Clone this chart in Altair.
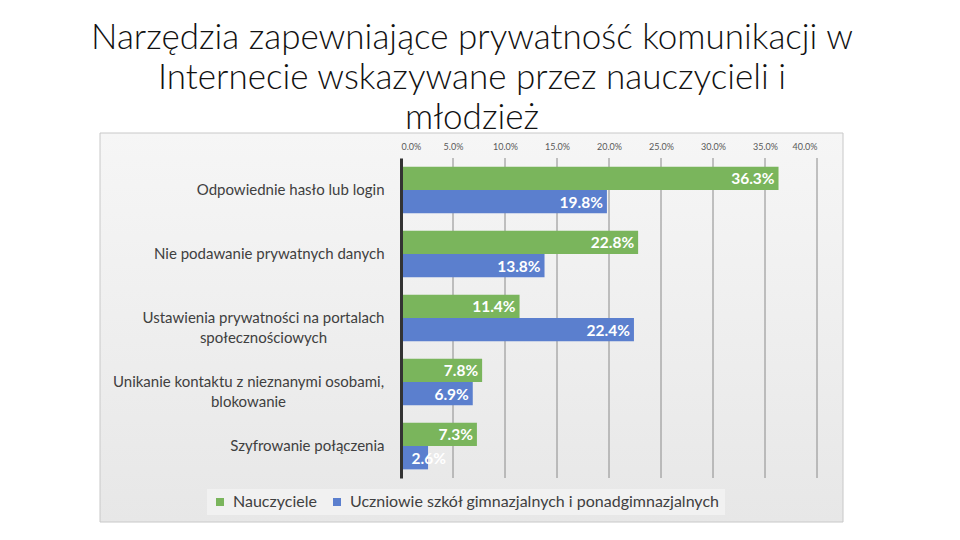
import altair as alt
import pandas as pd

categories = [
    "Odpowiednie hasło lub login",
    "Nie podawanie prywatnych danych",
    "Ustawienia prywatności na portalach\nspołecznościowych",
    "Unikanie kontaktu z nieznanymi osobami,\nblokowanie",
    "Szyfrowanie połączenia",
]
series = ["Nauczyciele", "Uczniowie szkół gimnazjalnych i ponadgimnazjalnych"]
teachers = [36.3, 22.8, 11.4, 7.8, 7.3]
students = [19.8, 13.8, 22.4, 6.9, 2.6]
tick_values = [0, 5, 10, 15, 20, 25, 30, 35, 40]
grid_values = [5, 10, 15, 20, 25, 30, 35, 40]
colors = ["#7ab55c", "#5b7fce"]
title_lines = [
    "Narzędzia zapewniające prywatność komunikacji w",
    "Internecie wskazywane przez nauczycieli i",
    "młodzież",
]

rows = []
for c, t, s in zip(categories, teachers, students):
    rows.append({"cat": c, "series": series[0], "value": t})
    rows.append({"cat": c, "series": series[1], "value": s})
df = pd.DataFrame(rows)
grid_df = pd.DataFrame({"v": grid_values})

FONT = "Lato"

xscale = alt.Scale(domain=[0, 40], nice=False)
yscale = alt.Scale(paddingInner=0.27, paddingOuter=0.135)

background = alt.Chart(alt.Data(values=[{}])).mark_rect(
    fill=alt.LinearGradient(
        gradient="linear",
        stops=[
            alt.GradientStop(offset=0, color="#f6f6f6"),
            alt.GradientStop(offset=1, color="#e7e7e7"),
        ],
        x1=0, x2=0, y1=0, y2=1,
    ),
    stroke="#c8c8c8",
    strokeWidth=1,
).encode(
    x=alt.value(-301), x2=alt.value(442), y=alt.value(-25), y2=alt.value(364)
)

grid = alt.Chart(grid_df).mark_rule(color="#8a8a8a", strokeWidth=1).encode(
    x=alt.X("v:Q", scale=xscale)
)

y_enc = alt.Y(
    "cat:N",
    sort=categories,
    scale=yscale,
    title=None,
    axis=alt.Axis(
        ticks=False,
        tickSize=0,
        domain=True,
        domainColor="#333333",
        domainWidth=3,
        labelFont=FONT,
        labelFontSize=15,
        labelColor="#404040",
        labelLineHeight=20,
        labelLimit=400,
        labelExpr="split(datum.label, '\\n')",
        labelAlign={
            "condition": {"test": "indexof(datum.value, '\\n') >= 0", "value": "center"},
            "value": "right",
        },
        labelPadding={
            "condition": [
                {"test": "indexof(datum.value, 'Ustawienia') >= 0", "value": 138},
                {"test": "indexof(datum.value, 'Unikanie') >= 0", "value": 153},
            ],
            "value": 17,
        },
        zindex=1,
    ),
)

bars = alt.Chart(df).mark_bar().encode(
    x=alt.X(
        "value:Q",
        scale=xscale,
        title=None,
        axis=alt.Axis(
            orient="top",
            values=tick_values,
            grid=False,
            ticks=False,
            domain=False,
            labelExpr="format(datum.value, '.1f') + '%'",
            labelFont=FONT,
            labelFontSize=9,
            labelColor="#595959",
            labelPadding=7,
            zindex=1,
        ),
    ),
    y=y_enc,
    yOffset=alt.YOffset("series:N", sort=series),
    color=alt.Color(
        "series:N",
        sort=series,
        scale=alt.Scale(domain=series, range=colors),
        legend=alt.Legend(
            title=None,
            orient="none",
            legendX=-194,
            legendY=331,
            direction="horizontal",
            symbolType="square",
            symbolSize=64,
            symbolStrokeWidth=0,
            labelFont=FONT,
            labelFontSize=16,
            labelColor="#404040",
            labelLimit=600,
            columnPadding=12,
            labelOffset=5,
            fillColor="#f1f1f1",
            padding=5,
        ),
    ),
)

labels = alt.Chart(df).transform_calculate(
    pos="max(datum.value, 4.7)",
    txt="format(datum.value, '.1f') + '%'",
).mark_text(
    align="right", baseline="middle", dx=-4, dy=1,
    font=FONT, fontSize=15.5, fontWeight="bold", color="white",
).encode(
    x=alt.X("pos:Q", scale=xscale),
    y=alt.Y("cat:N", sort=categories, scale=yscale),
    yOffset=alt.YOffset("series:N", sort=series),
    text="txt:N",
)

chart = alt.layer(background, grid, bars, labels).properties(
    width=416,
    height=320,
    autosize=alt.AutoSizeParams(type="none"),
    padding={"left": 393, "top": 150, "right": 125, "bottom": 52},
    background="white",
    title=alt.TitleParams(
        text=title_lines,
        font=FONT,
        fontSize=35,
        fontWeight=300,
        color="#111111",
        anchor="middle",
        dx=-137,
        lineHeight=40,
        offset=-3,
    ),
).configure_view(stroke=None)

chart.save("out.html", embed_options={"renderer": "svg", "actions": False})
